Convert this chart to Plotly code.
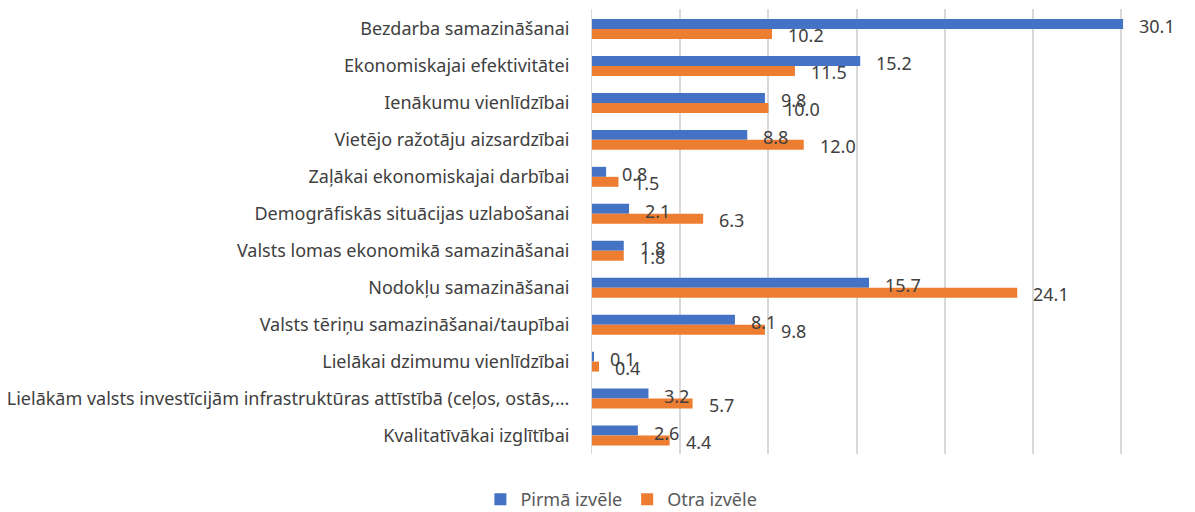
import plotly.graph_objects as go

categories = [
    "Bezdarba samazināšanai",
    "Ekonomiskajai efektivitātei",
    "Ienākumu vienlīdzībai",
    "Vietējo ražotāju aizsardzībai",
    "Zaļākai ekonomiskajai darbībai",
    "Demogrāfiskās situācijas uzlabošanai",
    "Valsts lomas ekonomikā samazināšanai",
    "Nodokļu samazināšanai",
    "Valsts tēriņu samazināšanai/taupībai",
    "Lielākai dzimumu vienlīdzībai",
    "Lielākām valsts investīcijām infrastruktūras attīstībā (ceļos, ostās,...",
    "Kvalitatīvākai izglītībai",
]
pirma = [30.1, 15.2, 9.8, 8.8, 0.8, 2.1, 1.8, 15.7, 8.1, 0.1, 3.2, 2.6]
otra = [10.2, 11.5, 10.0, 12.0, 1.5, 6.3, 1.8, 24.1, 9.8, 0.4, 5.7, 4.4]
series_names = ["Pirmā izvēle", "Otra izvēle"]
colors = ["#4472C4", "#ED7D31"]

FONT = "Noto Sans"
TXT = "#404040"
FS = 18

fig = go.Figure()
for name, vals, col in zip(series_names, [pirma, otra], colors):
    fig.add_trace(go.Bar(
        y=categories, x=vals, name=name, orientation="h",
        marker=dict(color=col, line=dict(width=0)),
    ))

annotations = []
for vals, ys in [(pirma, 3), (otra, -6)]:
    for c, v in zip(categories, vals):
        annotations.append(dict(
            x=v, y=c, xref="x", yref="y", text=f"{v:.1f}", showarrow=False,
            xanchor="left", yanchor="middle", xshift=14, yshift=ys,
            font=dict(family=FONT, size=FS, color=TXT),
        ))

fig.update_layout(
    width=1195, height=512,
    paper_bgcolor="white", plot_bgcolor="white",
    barmode="group", bargap=0.46, bargroupgap=0,
    margin=dict(l=592, r=71, t=9, b=58, autoexpand=False),
    font=dict(family=FONT, size=FS, color=TXT),
    annotations=annotations,
    showlegend=True,
    legend=dict(
        orientation="h", xref="container", yref="container",
        x=0.52, y=1 - 481 / 512, xanchor="center", yanchor="top",
        font=dict(family=FONT, size=FS, color="#595959"),
        itemwidth=30, traceorder="normal",
    ),
)
fig.update_xaxes(
    range=[0, 30.15], dtick=5, tick0=0, showticklabels=False,
    showgrid=True, gridcolor="#D9D9D9", gridwidth=2, zeroline=False,
    showline=False, fixedrange=True, automargin=False,
)
fig.update_yaxes(
    autorange="reversed", showline=True, linecolor="#D9D9D9", linewidth=1,
    ticks="", ticklabelstandoff=18, showgrid=False, automargin=False,
    tickfont=dict(family=FONT, size=FS, color=TXT),
)
fig.write_html(
    "out.html",
    config={"displayModeBar": False},
    post_script="document.body.style.margin='0';document.body.style.overflow='hidden';",
)
